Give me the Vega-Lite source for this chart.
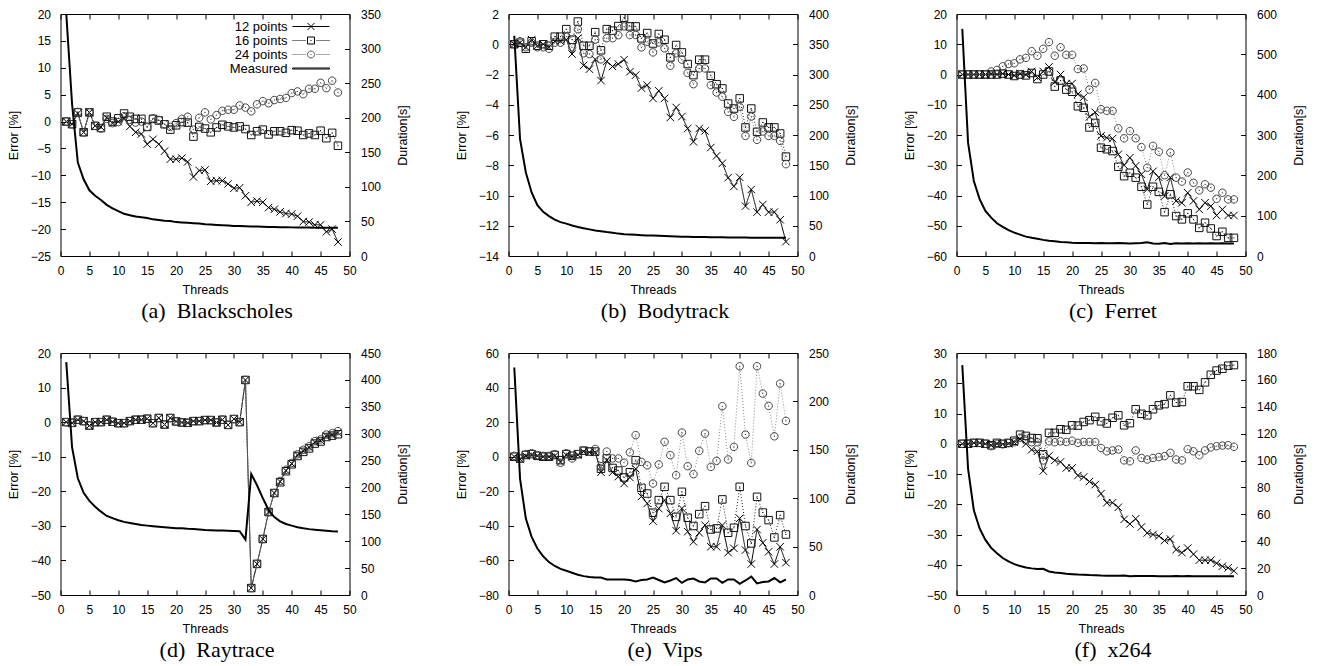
{
"$schema": "https://vega.github.io/schema/vega-lite/v6.json",
"padding": {"left": 6.5, "top": 7, "right": 5, "bottom": 5},
"config": {
 "view": {"stroke": "#000000", "strokeWidth": 1},
 "font": "Liberation Sans",
 "axis": {"grid": false, "domain": false, "tickSize": -5, "tickColor": "#000000", "tickWidth": 1, "labelFont": "Liberation Sans", "labelFontSize": 12, "labelColor": "#000000", "titleFont": "Liberation Sans", "titleFontSize": 12.5, "titleFontWeight": "normal", "titleColor": "#000000", "labelFlush": false, "labelOverlap": false},
 "axisLeft": {"labelPadding": 15, "titlePadding": 10},
 "axisRight": {"labelPadding": 16, "titlePadding": 16, "titleAngle": 270, "titleBaseline": "top"},
 "axisBottom": {"labelPadding": 14.5, "titlePadding": 6.5},
 "axisTop": {"labels": false},
 "title": {"orient": "bottom", "font": "Liberation Serif", "fontSize": 22, "fontWeight": "normal", "color": "#000000", "frame": "group", "anchor": "middle", "offset": 5, "dx": 12}
},
"data": {"values": [
{"p":"a","t":1,"12 points":0,"16 points":0,"24 points":0,"dur":350},
{"p":"a","t":2,"12 points":-0.5,"16 points":-0.5,"24 points":-0.5,"dur":220},
{"p":"a","t":3,"12 points":1.5,"16 points":1.7,"24 points":1.8,"dur":135},
{"p":"a","t":4,"12 points":-2,"16 points":-2,"24 points":-2,"dur":111},
{"p":"a","t":5,"12 points":1.7,"16 points":1.7,"24 points":1.7,"dur":95},
{"p":"a","t":6,"12 points":-0.8,"16 points":-0.8,"24 points":-0.8,"dur":87},
{"p":"a","t":7,"12 points":-1,"16 points":-1.2,"24 points":-1.3,"dur":81},
{"p":"a","t":8,"12 points":0.7,"16 points":0.9,"24 points":0.5,"dur":74},
{"p":"a","t":9,"12 points":-0.3,"16 points":0,"24 points":-0.3,"dur":69},
{"p":"a","t":10,"12 points":0,"16 points":0.6,"24 points":-0.1,"dur":65},
{"p":"a","t":11,"12 points":0.6,"16 points":1.5,"24 points":1,"dur":61},
{"p":"a","t":12,"12 points":-0.9,"16 points":0.9,"24 points":0.3,"dur":59},
{"p":"a","t":13,"12 points":-2,"16 points":0.5,"24 points":-0.2,"dur":57},
{"p":"a","t":14,"12 points":-2.3,"16 points":0.5,"24 points":0,"dur":56},
{"p":"a","t":15,"12 points":-4.2,"16 points":-1,"24 points":-1,"dur":55},
{"p":"a","t":16,"12 points":-3.3,"16 points":0.5,"24 points":0.6,"dur":53},
{"p":"a","t":17,"12 points":-4.2,"16 points":0.2,"24 points":0.3,"dur":52},
{"p":"a","t":18,"12 points":-5.5,"16 points":-0.5,"24 points":-0.5,"dur":51},
{"p":"a","t":19,"12 points":-7,"16 points":-1.5,"24 points":-1,"dur":50.5},
{"p":"a","t":20,"12 points":-7,"16 points":-0.7,"24 points":-0.3,"dur":49},
{"p":"a","t":21,"12 points":-6.8,"16 points":-0.1,"24 points":0.5,"dur":48.5},
{"p":"a","t":22,"12 points":-7.5,"16 points":-0.2,"24 points":0.9,"dur":48},
{"p":"a","t":23,"12 points":-10.3,"16 points":-2.8,"24 points":-1.5,"dur":47.5},
{"p":"a","t":24,"12 points":-9.1,"16 points":-1,"24 points":0.7,"dur":47},
{"p":"a","t":25,"12 points":-9,"16 points":-1.3,"24 points":1.7,"dur":46},
{"p":"a","t":26,"12 points":-11.1,"16 points":-2,"24 points":0.4,"dur":45.5},
{"p":"a","t":27,"12 points":-11,"16 points":-1.1,"24 points":1.2,"dur":45},
{"p":"a","t":28,"12 points":-11,"16 points":-0.6,"24 points":2,"dur":44.5},
{"p":"a","t":29,"12 points":-11.6,"16 points":-0.9,"24 points":2.2,"dur":44},
{"p":"a","t":30,"12 points":-12.4,"16 points":-1.1,"24 points":2.2,"dur":43.5},
{"p":"a","t":31,"12 points":-12.3,"16 points":-0.9,"24 points":3,"dur":43.3},
{"p":"a","t":32,"12 points":-13.8,"16 points":-1.4,"24 points":2.6,"dur":43},
{"p":"a","t":33,"12 points":-15,"16 points":-2.5,"24 points":1.9,"dur":42.8},
{"p":"a","t":34,"12 points":-14.8,"16 points":-1.8,"24 points":3.2,"dur":42.5},
{"p":"a","t":35,"12 points":-15,"16 points":-1.5,"24 points":3.8,"dur":42.2},
{"p":"a","t":36,"12 points":-16,"16 points":-2.4,"24 points":3.4,"dur":42},
{"p":"a","t":37,"12 points":-16.3,"16 points":-1.8,"24 points":4,"dur":41.8},
{"p":"a","t":38,"12 points":-16.8,"16 points":-1.8,"24 points":4.2,"dur":41.6},
{"p":"a","t":39,"12 points":-17.1,"16 points":-2.1,"24 points":4.4,"dur":41.5},
{"p":"a","t":40,"12 points":-17.2,"16 points":-1.6,"24 points":5.3,"dur":41.4},
{"p":"a","t":41,"12 points":-17.6,"16 points":-1.7,"24 points":5.6,"dur":41.3},
{"p":"a","t":42,"12 points":-18.6,"16 points":-2.5,"24 points":5.1,"dur":41.2},
{"p":"a","t":43,"12 points":-18.7,"16 points":-2.2,"24 points":6.1,"dur":41.1},
{"p":"a","t":44,"12 points":-19.2,"16 points":-2.5,"24 points":6.1,"dur":41},
{"p":"a","t":45,"12 points":-19.2,"16 points":-1.7,"24 points":7.2,"dur":41},
{"p":"a","t":46,"12 points":-20.5,"16 points":-3.1,"24 points":6.2,"dur":41},
{"p":"a","t":47,"12 points":-20,"16 points":-2.1,"24 points":7.6,"dur":40.8},
{"p":"a","t":48,"12 points":-22.4,"16 points":-4.5,"24 points":5.4,"dur":40.7},
{"p":"b","t":1,"12 points":0,"16 points":0,"24 points":0,"dur":364},
{"p":"b","t":2,"12 points":0.1,"16 points":0.1,"24 points":0.2,"dur":193},
{"p":"b","t":3,"12 points":-0.2,"16 points":-0.3,"24 points":-0.2,"dur":138},
{"p":"b","t":4,"12 points":0.3,"16 points":0.2,"24 points":0.1,"dur":105},
{"p":"b","t":5,"12 points":-0.1,"16 points":-0.1,"24 points":-0.2,"dur":84},
{"p":"b","t":6,"12 points":0,"16 points":0,"24 points":-0.2,"dur":73},
{"p":"b","t":7,"12 points":-0.2,"16 points":-0.1,"24 points":-0.3,"dur":66},
{"p":"b","t":8,"12 points":0.2,"16 points":0.5,"24 points":0.1,"dur":60},
{"p":"b","t":9,"12 points":0.2,"16 points":0.5,"24 points":0.1,"dur":56},
{"p":"b","t":10,"12 points":0.3,"16 points":1,"24 points":0.5,"dur":53.5},
{"p":"b","t":11,"12 points":-0.65,"16 points":0.3,"24 points":-0.2,"dur":50.5},
{"p":"b","t":12,"12 points":0.4,"16 points":1.5,"24 points":1,"dur":48},
{"p":"b","t":13,"12 points":-1.4,"16 points":-0.1,"24 points":-0.6,"dur":46},
{"p":"b","t":14,"12 points":-1.65,"16 points":-0.1,"24 points":-0.65,"dur":44},
{"p":"b","t":15,"12 points":-1,"16 points":0.8,"24 points":0.3,"dur":42},
{"p":"b","t":16,"12 points":-2.4,"16 points":-0.4,"24 points":-1,"dur":41},
{"p":"b","t":17,"12 points":-1.13,"16 points":1,"24 points":0.4,"dur":39.5},
{"p":"b","t":18,"12 points":-1.47,"16 points":0.9,"24 points":0.4,"dur":38.5},
{"p":"b","t":19,"12 points":-1.31,"16 points":1.2,"24 points":0.6,"dur":37},
{"p":"b","t":20,"12 points":-1.02,"16 points":1.75,"24 points":1.18,"dur":36},
{"p":"b","t":21,"12 points":-1.82,"16 points":1.18,"24 points":0.61,"dur":35.5},
{"p":"b","t":22,"12 points":-2.04,"16 points":1.18,"24 points":0.61,"dur":35},
{"p":"b","t":23,"12 points":-2.9,"16 points":0.39,"24 points":-0.21,"dur":34.5},
{"p":"b","t":24,"12 points":-2.7,"16 points":0.74,"24 points":0.17,"dur":34},
{"p":"b","t":25,"12 points":-3.58,"16 points":0.05,"24 points":-0.54,"dur":33.8},
{"p":"b","t":26,"12 points":-3.08,"16 points":0.68,"24 points":0.12,"dur":33.3},
{"p":"b","t":27,"12 points":-3.58,"16 points":0.3,"24 points":-0.27,"dur":33},
{"p":"b","t":28,"12 points":-4.84,"16 points":-0.87,"24 points":-1.42,"dur":32.7},
{"p":"b","t":29,"12 points":-4.18,"16 points":-0.05,"24 points":-0.6,"dur":32.3},
{"p":"b","t":30,"12 points":-4.78,"16 points":-0.54,"24 points":-1.02,"dur":32},
{"p":"b","t":31,"12 points":-5.57,"16 points":-1.31,"24 points":-1.9,"dur":31.8},
{"p":"b","t":32,"12 points":-6.45,"16 points":-2.04,"24 points":-2.64,"dur":31.6},
{"p":"b","t":33,"12 points":-5.57,"16 points":-1.02,"24 points":-1.6,"dur":31.4},
{"p":"b","t":34,"12 points":-5.73,"16 points":-1.02,"24 points":-1.6,"dur":31.2},
{"p":"b","t":35,"12 points":-6.83,"16 points":-2.08,"24 points":-2.7,"dur":31},
{"p":"b","t":36,"12 points":-7.38,"16 points":-2.64,"24 points":-3.19,"dur":30.9},
{"p":"b","t":37,"12 points":-7.87,"16 points":-2.92,"24 points":-3.47,"dur":30.8},
{"p":"b","t":38,"12 points":-8.82,"16 points":-3.92,"24 points":-4.47,"dur":30.7},
{"p":"b","t":39,"12 points":-9.4,"16 points":-4.25,"24 points":-4.8,"dur":30.6},
{"p":"b","t":40,"12 points":-8.8,"16 points":-3.58,"24 points":-4.14,"dur":30.5},
{"p":"b","t":41,"12 points":-10.7,"16 points":-5.5,"24 points":-6.06,"dur":30.4},
{"p":"b","t":42,"12 points":-9.6,"16 points":-4.25,"24 points":-4.78,"dur":30.3},
{"p":"b","t":43,"12 points":-11.1,"16 points":-5.79,"24 points":-6.32,"dur":30.2},
{"p":"b","t":44,"12 points":-10.6,"16 points":-5.17,"24 points":-5.77,"dur":30.2},
{"p":"b","t":45,"12 points":-11.1,"16 points":-5.5,"24 points":-6.06,"dur":30.1},
{"p":"b","t":46,"12 points":-11.1,"16 points":-5.5,"24 points":-6.06,"dur":30.1},
{"p":"b","t":47,"12 points":-11.6,"16 points":-5.9,"24 points":-6.39,"dur":30},
{"p":"b","t":48,"12 points":-13.05,"16 points":-7.43,"24 points":-7.93,"dur":30},
{"p":"c","t":1,"12 points":0,"16 points":0,"24 points":0,"dur":563},
{"p":"c","t":2,"12 points":0,"16 points":0,"24 points":0,"dur":281},
{"p":"c","t":3,"12 points":0,"16 points":0,"24 points":0,"dur":186},
{"p":"c","t":4,"12 points":0,"16 points":0,"24 points":0,"dur":141},
{"p":"c","t":5,"12 points":0,"16 points":0,"24 points":0,"dur":112},
{"p":"c","t":6,"12 points":0.3,"16 points":0,"24 points":1,"dur":95},
{"p":"c","t":7,"12 points":0,"16 points":0,"24 points":1.5,"dur":81},
{"p":"c","t":8,"12 points":0.3,"16 points":0.3,"24 points":2.7,"dur":72},
{"p":"c","t":9,"12 points":0,"16 points":0,"24 points":3.5,"dur":64},
{"p":"c","t":10,"12 points":-0.3,"16 points":-0.5,"24 points":3.7,"dur":58},
{"p":"c","t":11,"12 points":0.3,"16 points":0,"24 points":5,"dur":53},
{"p":"c","t":12,"12 points":0,"16 points":-0.3,"24 points":5.5,"dur":48},
{"p":"c","t":13,"12 points":1,"16 points":0.5,"24 points":7.7,"dur":45},
{"p":"c","t":14,"12 points":-1,"16 points":-1.5,"24 points":6.2,"dur":42.5},
{"p":"c","t":15,"12 points":1,"16 points":0,"24 points":8.5,"dur":40},
{"p":"c","t":16,"12 points":2.5,"16 points":1,"24 points":10.7,"dur":38},
{"p":"c","t":17,"12 points":-2.5,"16 points":-4,"24 points":6.2,"dur":36.5},
{"p":"c","t":18,"12 points":0,"16 points":-2,"24 points":9,"dur":35},
{"p":"c","t":19,"12 points":-3,"16 points":-5,"24 points":6.5,"dur":34},
{"p":"c","t":20,"12 points":-3,"16 points":-5.7,"24 points":6.5,"dur":33},
{"p":"c","t":21,"12 points":-6.5,"16 points":-10.5,"24 points":1.8,"dur":32.5},
{"p":"c","t":22,"12 points":-7.5,"16 points":-11,"24 points":2,"dur":32},
{"p":"c","t":23,"12 points":-14,"16 points":-17.5,"24 points":-5,"dur":32},
{"p":"c","t":24,"12 points":-12.5,"16 points":-16,"24 points":-2.8,"dur":31.5},
{"p":"c","t":25,"12 points":-20.3,"16 points":-24.2,"24 points":-11.5,"dur":32},
{"p":"c","t":26,"12 points":-20.9,"16 points":-24.7,"24 points":-12,"dur":31.5},
{"p":"c","t":27,"12 points":-21.2,"16 points":-25.3,"24 points":-12,"dur":31.5},
{"p":"c","t":28,"12 points":-26.4,"16 points":-30.5,"24 points":-17.8,"dur":32},
{"p":"c","t":29,"12 points":-30,"16 points":-33.6,"24 points":-21.1,"dur":31.5},
{"p":"c","t":30,"12 points":-27.5,"16 points":-32.5,"24 points":-18.7,"dur":31},
{"p":"c","t":31,"12 points":-30.2,"16 points":-34.1,"24 points":-21.1,"dur":31.5},
{"p":"c","t":32,"12 points":-33,"16 points":-37.1,"24 points":-24,"dur":32},
{"p":"c","t":33,"12 points":-38,"16 points":-43,"24 points":-30.8,"dur":34},
{"p":"c","t":34,"12 points":-32,"16 points":-37.1,"24 points":-23.6,"dur":31},
{"p":"c","t":35,"12 points":-34,"16 points":-38.8,"24 points":-25.5,"dur":30.5},
{"p":"c","t":36,"12 points":-40.2,"16 points":-45.5,"24 points":-33.3,"dur":32},
{"p":"c","t":37,"12 points":-34,"16 points":-39.6,"24 points":-25.8,"dur":29.5},
{"p":"c","t":38,"12 points":-41.8,"16 points":-46.8,"24 points":-34.1,"dur":31.5},
{"p":"c","t":39,"12 points":-42.4,"16 points":-47.9,"24 points":-35.4,"dur":31},
{"p":"c","t":40,"12 points":-39.1,"16 points":-45.9,"24 points":-32.4,"dur":31.5},
{"p":"c","t":41,"12 points":-41.8,"16 points":-47.9,"24 points":-35.8,"dur":31},
{"p":"c","t":42,"12 points":-44.6,"16 points":-50.7,"24 points":-38.3,"dur":31.5},
{"p":"c","t":43,"12 points":-42.4,"16 points":-49,"24 points":-36.3,"dur":31},
{"p":"c","t":44,"12 points":-43.5,"16 points":-50.9,"24 points":-37.4,"dur":31.5},
{"p":"c","t":45,"12 points":-46.6,"16 points":-53.4,"24 points":-41.1,"dur":31},
{"p":"c","t":46,"12 points":-44.6,"16 points":-52,"24 points":-39.1,"dur":31.5},
{"p":"c","t":47,"12 points":-46.6,"16 points":-54,"24 points":-41.3,"dur":31},
{"p":"c","t":48,"12 points":-46.6,"16 points":-54,"24 points":-41.3,"dur":31},
{"p":"d","t":1,"12 points":0,"16 points":0,"24 points":0,"dur":433},
{"p":"d","t":2,"12 points":-0.2,"16 points":-0.2,"24 points":-0.2,"dur":275},
{"p":"d","t":3,"12 points":0.7,"16 points":0.7,"24 points":0.7,"dur":217},
{"p":"d","t":4,"12 points":0.3,"16 points":0.3,"24 points":0.3,"dur":190},
{"p":"d","t":5,"12 points":-1,"16 points":-1,"24 points":-1,"dur":175},
{"p":"d","t":6,"12 points":0,"16 points":0,"24 points":0,"dur":164},
{"p":"d","t":7,"12 points":0,"16 points":0,"24 points":0,"dur":155},
{"p":"d","t":8,"12 points":0.7,"16 points":0.7,"24 points":0.7,"dur":147},
{"p":"d","t":9,"12 points":0.1,"16 points":0.1,"24 points":0.1,"dur":143},
{"p":"d","t":10,"12 points":-0.3,"16 points":-0.3,"24 points":-0.3,"dur":139},
{"p":"d","t":11,"12 points":-0.3,"16 points":-0.3,"24 points":-0.3,"dur":136},
{"p":"d","t":12,"12 points":0.3,"16 points":0.3,"24 points":0.3,"dur":134},
{"p":"d","t":13,"12 points":0.7,"16 points":0.7,"24 points":0.7,"dur":132},
{"p":"d","t":14,"12 points":0.7,"16 points":0.7,"24 points":0.7,"dur":130},
{"p":"d","t":15,"12 points":1,"16 points":1,"24 points":1,"dur":129},
{"p":"d","t":16,"12 points":-0.3,"16 points":-0.3,"24 points":-0.3,"dur":128},
{"p":"d","t":17,"12 points":1.2,"16 points":1.2,"24 points":1.2,"dur":127},
{"p":"d","t":18,"12 points":-0.7,"16 points":-0.7,"24 points":-0.7,"dur":126},
{"p":"d","t":19,"12 points":1.2,"16 points":1.2,"24 points":1.2,"dur":125},
{"p":"d","t":20,"12 points":0.2,"16 points":0.2,"24 points":0.2,"dur":124},
{"p":"d","t":21,"12 points":-0.1,"16 points":-0.1,"24 points":-0.1,"dur":124},
{"p":"d","t":22,"12 points":-0.2,"16 points":-0.2,"24 points":-0.2,"dur":123},
{"p":"d","t":23,"12 points":0.3,"16 points":0.3,"24 points":0.3,"dur":122.5},
{"p":"d","t":24,"12 points":0.3,"16 points":0.3,"24 points":0.3,"dur":122},
{"p":"d","t":25,"12 points":0.6,"16 points":0.6,"24 points":0.6,"dur":121},
{"p":"d","t":26,"12 points":0.6,"16 points":0.6,"24 points":0.6,"dur":120.5},
{"p":"d","t":27,"12 points":-0.1,"16 points":-0.1,"24 points":-0.1,"dur":120},
{"p":"d","t":28,"12 points":0.7,"16 points":0.7,"24 points":0.7,"dur":120},
{"p":"d","t":29,"12 points":-0.8,"16 points":-0.8,"24 points":-0.8,"dur":119.5},
{"p":"d","t":30,"12 points":0.9,"16 points":0.9,"24 points":0.9,"dur":119},
{"p":"d","t":31,"12 points":0,"16 points":0,"24 points":0,"dur":118.5},
{"p":"d","t":32,"12 points":12.2,"16 points":12.2,"24 points":12.2,"dur":103},
{"p":"d","t":33,"12 points":-48,"16 points":-48,"24 points":-48,"dur":225},
{"p":"d","t":34,"12 points":-41,"16 points":-41,"24 points":-41,"dur":204},
{"p":"d","t":35,"12 points":-33.8,"16 points":-33.8,"24 points":-33.8,"dur":180},
{"p":"d","t":36,"12 points":-26,"16 points":-26,"24 points":-26,"dur":158},
{"p":"d","t":37,"12 points":-20.5,"16 points":-20.5,"24 points":-20.5,"dur":145},
{"p":"d","t":38,"12 points":-17.2,"16 points":-17.4,"24 points":-17,"dur":137},
{"p":"d","t":39,"12 points":-14,"16 points":-14.2,"24 points":-13.8,"dur":132},
{"p":"d","t":40,"12 points":-12,"16 points":-12.2,"24 points":-11.8,"dur":129},
{"p":"d","t":41,"12 points":-9.5,"16 points":-9.8,"24 points":-9.3,"dur":126},
{"p":"d","t":42,"12 points":-8.3,"16 points":-8.6,"24 points":-8,"dur":124},
{"p":"d","t":43,"12 points":-7.3,"16 points":-7.6,"24 points":-7,"dur":122.5},
{"p":"d","t":44,"12 points":-5.8,"16 points":-6.2,"24 points":-5.5,"dur":121.5},
{"p":"d","t":45,"12 points":-5.3,"16 points":-5.6,"24 points":-5,"dur":120.5},
{"p":"d","t":46,"12 points":-4,"16 points":-4.3,"24 points":-3.6,"dur":119.5},
{"p":"d","t":47,"12 points":-3.6,"16 points":-3.9,"24 points":-3.2,"dur":118.5},
{"p":"d","t":48,"12 points":-3,"16 points":-3.5,"24 points":-2.6,"dur":118},
{"p":"e","t":1,"12 points":0,"16 points":0,"24 points":0.5,"dur":235},
{"p":"e","t":2,"12 points":-1.5,"16 points":-1,"24 points":-1,"dur":120},
{"p":"e","t":3,"12 points":0.5,"16 points":1,"24 points":1.5,"dur":79},
{"p":"e","t":4,"12 points":1,"16 points":1.5,"24 points":2,"dur":60},
{"p":"e","t":5,"12 points":0.5,"16 points":0.5,"24 points":1,"dur":48},
{"p":"e","t":6,"12 points":0,"16 points":0,"24 points":0.5,"dur":40},
{"p":"e","t":7,"12 points":0,"16 points":0,"24 points":0.5,"dur":34},
{"p":"e","t":8,"12 points":0.5,"16 points":1,"24 points":1.5,"dur":30},
{"p":"e","t":9,"12 points":-3,"16 points":-2,"24 points":-3.5,"dur":27},
{"p":"e","t":10,"12 points":1,"16 points":1.5,"24 points":2,"dur":25},
{"p":"e","t":11,"12 points":0,"16 points":0.5,"24 points":-1,"dur":23},
{"p":"e","t":12,"12 points":1,"16 points":1.5,"24 points":1.5,"dur":21},
{"p":"e","t":13,"12 points":3,"16 points":3.5,"24 points":3.5,"dur":19.5},
{"p":"e","t":14,"12 points":2.5,"16 points":3,"24 points":3,"dur":18.5},
{"p":"e","t":15,"12 points":2.5,"16 points":3,"24 points":4.5,"dur":18},
{"p":"e","t":16,"12 points":-9,"16 points":-7,"24 points":-5.5,"dur":18},
{"p":"e","t":17,"12 points":-2,"16 points":-1,"24 points":3,"dur":16},
{"p":"e","t":18,"12 points":-9,"16 points":-6.5,"24 points":-1,"dur":16},
{"p":"e","t":19,"12 points":-11.5,"16 points":-8,"24 points":-1,"dur":16},
{"p":"e","t":20,"12 points":-15.5,"16 points":-12,"24 points":-3.5,"dur":16},
{"p":"e","t":21,"12 points":-12,"16 points":-9,"24 points":2.5,"dur":15.5},
{"p":"e","t":22,"12 points":-7,"16 points":-2,"24 points":12.5,"dur":14},
{"p":"e","t":23,"12 points":-23,"16 points":-18,"24 points":-3,"dur":15.5},
{"p":"e","t":24,"12 points":-27,"16 points":-21.3,"24 points":-5,"dur":16},
{"p":"e","t":25,"12 points":-37.3,"16 points":-32.4,"24 points":-15.5,"dur":18},
{"p":"e","t":26,"12 points":-30,"16 points":-25.1,"24 points":-4.5,"dur":15.5},
{"p":"e","t":27,"12 points":-25.1,"16 points":-17.4,"24 points":8.6,"dur":13},
{"p":"e","t":28,"12 points":-32.8,"16 points":-25.1,"24 points":0.9,"dur":15},
{"p":"e","t":29,"12 points":-42.8,"16 points":-34.8,"24 points":-10.7,"dur":17.5},
{"p":"e","t":30,"12 points":-29.9,"16 points":-20.3,"24 points":14,"dur":12.5},
{"p":"e","t":31,"12 points":-43.4,"16 points":-35.3,"24 points":-5.5,"dur":16},
{"p":"e","t":32,"12 points":-49.2,"16 points":-40.1,"24 points":-10.1,"dur":17},
{"p":"e","t":33,"12 points":-44,"16 points":-33.2,"24 points":3.4,"dur":14},
{"p":"e","t":34,"12 points":-39.6,"16 points":-28.6,"24 points":13.4,"dur":13},
{"p":"e","t":35,"12 points":-52.1,"16 points":-42.1,"24 points":-5.9,"dur":17},
{"p":"e","t":36,"12 points":-52.1,"16 points":-41.5,"24 points":-2.4,"dur":17},
{"p":"e","t":37,"12 points":-39.6,"16 points":-24.7,"24 points":29.2,"dur":12.5},
{"p":"e","t":38,"12 points":-55.5,"16 points":-44,"24 points":-1.6,"dur":16},
{"p":"e","t":39,"12 points":-53,"16 points":-41.1,"24 points":5.7,"dur":16},
{"p":"e","t":40,"12 points":-35.7,"16 points":-17.4,"24 points":52.3,"dur":11.5},
{"p":"e","t":41,"12 points":-54,"16 points":-40.1,"24 points":12.8,"dur":15},
{"p":"e","t":42,"12 points":-62.1,"16 points":-50.2,"24 points":-3.6,"dur":19},
{"p":"e","t":43,"12 points":-42.1,"16 points":-23.2,"24 points":52.3,"dur":12},
{"p":"e","t":44,"12 points":-49.8,"16 points":-32.3,"24 points":36.5,"dur":13.5},
{"p":"e","t":45,"12 points":-55,"16 points":-36.7,"24 points":29.4,"dur":14},
{"p":"e","t":46,"12 points":-62.1,"16 points":-46.7,"24 points":11.8,"dur":17.5},
{"p":"e","t":47,"12 points":-52.1,"16 points":-33.8,"24 points":42.3,"dur":13},
{"p":"e","t":48,"12 points":-61.3,"16 points":-45,"24 points":20.7,"dur":16},
{"p":"f","t":1,"12 points":0,"16 points":0,"24 points":0,"dur":171},
{"p":"f","t":2,"12 points":0,"16 points":0,"24 points":0,"dur":94},
{"p":"f","t":3,"12 points":0.3,"16 points":0.3,"24 points":0.3,"dur":63},
{"p":"f","t":4,"12 points":0.3,"16 points":0.3,"24 points":0.3,"dur":49.5},
{"p":"f","t":5,"12 points":0,"16 points":0,"24 points":0,"dur":41},
{"p":"f","t":6,"12 points":-0.5,"16 points":-0.5,"24 points":-0.8,"dur":35},
{"p":"f","t":7,"12 points":0,"16 points":0.3,"24 points":0,"dur":31},
{"p":"f","t":8,"12 points":-0.2,"16 points":0,"24 points":-0.2,"dur":27.5},
{"p":"f","t":9,"12 points":0,"16 points":0.3,"24 points":0.2,"dur":25},
{"p":"f","t":10,"12 points":0.5,"16 points":1,"24 points":0.5,"dur":23},
{"p":"f","t":11,"12 points":1.5,"16 points":3,"24 points":2,"dur":21.5},
{"p":"f","t":12,"12 points":0,"16 points":2.6,"24 points":1,"dur":20.5},
{"p":"f","t":13,"12 points":-2,"16 points":1.9,"24 points":0.5,"dur":19.8},
{"p":"f","t":14,"12 points":-2.5,"16 points":1.8,"24 points":0.5,"dur":19.3},
{"p":"f","t":15,"12 points":-9,"16 points":-3.5,"24 points":-5.5,"dur":19.5},
{"p":"f","t":16,"12 points":-4,"16 points":3.6,"24 points":0.8,"dur":17.5},
{"p":"f","t":17,"12 points":-5.5,"16 points":3.6,"24 points":0.5,"dur":16.8},
{"p":"f","t":18,"12 points":-6,"16 points":4.8,"24 points":0.8,"dur":16.3},
{"p":"f","t":19,"12 points":-8,"16 points":4.6,"24 points":0.6,"dur":15.8},
{"p":"f","t":20,"12 points":-8,"16 points":6.1,"24 points":1,"dur":15.5},
{"p":"f","t":21,"12 points":-10.5,"16 points":6,"24 points":0.3,"dur":15.2},
{"p":"f","t":22,"12 points":-11,"16 points":7.2,"24 points":0.6,"dur":15},
{"p":"f","t":23,"12 points":-12.5,"16 points":7.8,"24 points":0.6,"dur":14.8},
{"p":"f","t":24,"12 points":-13.5,"16 points":8.9,"24 points":0.6,"dur":14.7},
{"p":"f","t":25,"12 points":-16.5,"16 points":7.4,"24 points":-1.4,"dur":14.5},
{"p":"f","t":26,"12 points":-19.5,"16 points":6.7,"24 points":-2.5,"dur":14.4},
{"p":"f","t":27,"12 points":-19.5,"16 points":8.6,"24 points":-2.2,"dur":14.3},
{"p":"f","t":28,"12 points":-21,"16 points":9.4,"24 points":-1.9,"dur":14.3},
{"p":"f","t":29,"12 points":-25,"16 points":6.1,"24 points":-5.5,"dur":14.5},
{"p":"f","t":30,"12 points":-26.5,"16 points":6.8,"24 points":-5.8,"dur":14},
{"p":"f","t":31,"12 points":-24.8,"16 points":11.4,"24 points":-2.2,"dur":14.2},
{"p":"f","t":32,"12 points":-27.5,"16 points":9.9,"24 points":-4.7,"dur":14.2},
{"p":"f","t":33,"12 points":-29.5,"16 points":9.4,"24 points":-5.2,"dur":14.1},
{"p":"f","t":34,"12 points":-30,"16 points":11.4,"24 points":-4.7,"dur":14.1},
{"p":"f","t":35,"12 points":-30.5,"16 points":12.7,"24 points":-4.4,"dur":14},
{"p":"f","t":36,"12 points":-32,"16 points":13.1,"24 points":-4.1,"dur":14},
{"p":"f","t":37,"12 points":-31.5,"16 points":16,"24 points":-3,"dur":14},
{"p":"f","t":38,"12 points":-35,"16 points":13.6,"24 points":-5.2,"dur":14.2},
{"p":"f","t":39,"12 points":-36,"16 points":13.8,"24 points":-5.5,"dur":14},
{"p":"f","t":40,"12 points":-34.5,"16 points":19,"24 points":-1.8,"dur":14.1},
{"p":"f","t":41,"12 points":-36.5,"16 points":19,"24 points":-2.5,"dur":14},
{"p":"f","t":42,"12 points":-38.5,"16 points":17.8,"24 points":-3.8,"dur":14},
{"p":"f","t":43,"12 points":-38.5,"16 points":20.3,"24 points":-2.2,"dur":14},
{"p":"f","t":44,"12 points":-38.5,"16 points":22.8,"24 points":-1.2,"dur":14},
{"p":"f","t":45,"12 points":-39.5,"16 points":24.2,"24 points":-0.8,"dur":14},
{"p":"f","t":46,"12 points":-40.5,"16 points":24.8,"24 points":-0.6,"dur":14},
{"p":"f","t":47,"12 points":-41,"16 points":25.8,"24 points":-0.5,"dur":14},
{"p":"f","t":48,"12 points":-42,"16 points":26,"24 points":-1,"dur":14}
]},
"columns": 3,
"spacing": {"row": 97, "column": 159},
"bounds": "flush",
"resolve": {"scale": {"shape": "independent"}, "legend": {"shape": "independent"}},
"concat": [
{
 "width": 289, "height": 242,
 "title": {"text": "(a)\u00a0 Blackscholes"},
 "transform": [{"filter": "datum.p === 'a'"}],
 "layer": [
  {
   "transform": [{"fold": ["12 points", "16 points", "24 points"], "as": ["series", "err"]}],
   "encoding": {
    "x": {"field": "t", "type": "quantitative", "scale": {"domain": [0, 50]}, "axis": {"orient": "bottom", "title": "Threads", "values": [0,5,10,15,20,25,30,35,40,45,50]}},
    "y": {"field": "err", "type": "quantitative", "scale": {"domain": [-25, 20]}, "axis": {"orient": "left", "title": "Error [%]", "values": [-25,-20,-15,-10,-5,0,5,10,15,20]}}
   },
   "layer": [
    {"mark": {"type": "line", "strokeWidth": 1, "clip": true}, "encoding": {"stroke": {"field": "series", "type": "nominal", "scale": {"domain": ["12 points", "16 points", "24 points"], "range": ["#000000", "#222222", "#888888"]}, "legend": null}, "strokeDash": {"field": "series", "type": "nominal", "scale": {"domain": ["12 points", "16 points", "24 points"], "range": [[1, 0], [1, 2], [1, 2]]}, "legend": null}}},
    {"mark": {"type": "point", "filled": false, "size": 56, "strokeWidth": 1, "opacity": 1, "clip": true}, "encoding": {
      "color": {"field": "series", "type": "nominal", "scale": {"domain": ["12 points", "16 points", "24 points"], "range": ["#000000", "#111111", "#444444"]}, "legend": null},
      "shape": {"field": "series", "type": "nominal", "scale": {"domain": ["12 points", "16 points", "24 points"], "range": ["M-1,-1L1,1M-1,1L1,-1", "M-1,-1H1V1H-1ZM-0.15,0H0.15", "M1,0A1,1,0,1,1,-1,0A1,1,0,1,1,1,0ZM-0.15,0H0.15"]}, "legend": null}
    }},
    {"transform": [{"filter": "false"}],
     "mark": {"type": "point", "filled": false, "size": 100, "strokeWidth": 1, "opacity": 1},
     "encoding": {
      "shape": {"field": "series", "type": "nominal",
       "scale": {"domain": ["12 points", "16 points", "24 points", "Measured"], "range": [
         "M-3.7,0H3.7M-0.7,-0.7L0.7,0.7M-0.7,0.7L0.7,-0.7",
         "M-3.7,0h0.2m0.2,0h0.2m0.2,0h0.2m0.2,0h0.2m0.2,0h0.2m0.2,0h0.2m0.2,0h0.2M-0.7,-0.7H0.7V0.7H-0.7ZM-0.1,0H0.1M1.1,0h0.2m0.2,0h0.2m0.2,0h0.2m0.2,0h0.2m0.2,0h0.2m0.2,0h0.2m0.2,0h0.2",
         "M-3.7,0h0.2m0.2,0h0.2m0.2,0h0.2m0.2,0h0.2m0.2,0h0.2m0.2,0h0.2m0.2,0h0.2M0.7,0A0.7,0.7,0,1,1,-0.7,0A0.7,0.7,0,1,1,0.7,0ZM-0.1,0H0.1M1.1,0h0.2m0.2,0h0.2m0.2,0h0.2m0.2,0h0.2m0.2,0h0.2m0.2,0h0.2m0.2,0h0.2",
         "M-3.7,-0.1H3.7V0.1H-3.7Z"]},
       "legend": {"orient": "none", "legendX": 235, "legendY": 6, "title": null, "symbolSize": 100, "labelFontSize": 13, "labelFont": "Liberation Sans", "labelColor": "#000000", "labelAlign": "right", "labelOffset": -30, "symbolOffset": 9, "rowPadding": -8, "symbolOpacity": 1, "symbolStrokeWidth": 1}},
      "color": {"field": "series", "type": "nominal",
       "scale": {"domain": ["12 points", "16 points", "24 points", "Measured"], "range": ["#000000", "#000000", "#555555", "#000000"]},
       "legend": {"orient": "none", "legendX": 235, "legendY": 6, "title": null, "symbolSize": 100, "labelFontSize": 13, "labelFont": "Liberation Sans", "labelColor": "#000000", "labelAlign": "right", "labelOffset": -30, "symbolOffset": 9, "rowPadding": -8, "symbolOpacity": 1, "symbolStrokeWidth": 1}}
     }
    }
   ],
   "resolve": {"scale": {"shape": "independent", "color": "independent"}}
  },
  {
   "mark": {"type": "line", "stroke": "#000000", "strokeWidth": 2, "clip": true},
   "encoding": {
    "x": {"field": "t", "type": "quantitative", "scale": {"domain": [0, 50]}, "axis": {"orient": "top", "title": null, "labels": false, "values": [0,5,10,15,20,25,30,35,40,45,50]}},
    "y": {"field": "dur", "type": "quantitative", "scale": {"domain": [0, 350]}, "axis": {"orient": "right", "title": "Duration[s]", "values": [0,50,100,150,200,250,300,350]}}
   }
  }
 ],
 "resolve": {"scale": {"y": "independent"}, "axis": {"x": "independent", "y": "independent"}}
},
{
 "width": 289, "height": 242,
 "title": {"text": "(b)\u00a0 Bodytrack"},
 "transform": [{"filter": "datum.p === 'b'"}],
 "layer": [
  {
   "transform": [{"fold": ["12 points", "16 points", "24 points"], "as": ["series", "err"]}],
   "encoding": {
    "x": {"field": "t", "type": "quantitative", "scale": {"domain": [0, 50]}, "axis": {"orient": "bottom", "title": "Threads", "values": [0,5,10,15,20,25,30,35,40,45,50]}},
    "y": {"field": "err", "type": "quantitative", "scale": {"domain": [-14, 2]}, "axis": {"orient": "left", "title": "Error [%]", "values": [-14,-12,-10,-8,-6,-4,-2,0,2]}}
   },
   "layer": [
    {"mark": {"type": "line", "strokeWidth": 1, "clip": true}, "encoding": {"stroke": {"field": "series", "type": "nominal", "scale": {"domain": ["12 points", "16 points", "24 points"], "range": ["#000000", "#222222", "#888888"]}, "legend": null}, "strokeDash": {"field": "series", "type": "nominal", "scale": {"domain": ["12 points", "16 points", "24 points"], "range": [[1, 0], [1, 2], [1, 2]]}, "legend": null}}},
    {"mark": {"type": "point", "filled": false, "size": 56, "strokeWidth": 1, "opacity": 1, "clip": true}, "encoding": {
      "color": {"field": "series", "type": "nominal", "scale": {"domain": ["12 points", "16 points", "24 points"], "range": ["#000000", "#111111", "#444444"]}, "legend": null},
      "shape": {"field": "series", "type": "nominal", "scale": {"domain": ["12 points", "16 points", "24 points"], "range": ["M-1,-1L1,1M-1,1L1,-1", "M-1,-1H1V1H-1ZM-0.15,0H0.15", "M1,0A1,1,0,1,1,-1,0A1,1,0,1,1,1,0ZM-0.15,0H0.15"]}, "legend": null}
    }}
   ]
  },
  {
   "mark": {"type": "line", "stroke": "#000000", "strokeWidth": 2, "clip": true},
   "encoding": {
    "x": {"field": "t", "type": "quantitative", "scale": {"domain": [0, 50]}, "axis": {"orient": "top", "title": null, "labels": false, "values": [0,5,10,15,20,25,30,35,40,45,50]}},
    "y": {"field": "dur", "type": "quantitative", "scale": {"domain": [0, 400]}, "axis": {"orient": "right", "title": "Duration[s]", "values": [0,50,100,150,200,250,300,350,400]}}
   }
  }
 ],
 "resolve": {"scale": {"y": "independent"}, "axis": {"x": "independent", "y": "independent"}}
},
{
 "width": 289, "height": 242,
 "title": {"text": "(c)\u00a0 Ferret"},
 "transform": [{"filter": "datum.p === 'c'"}],
 "layer": [
  {
   "transform": [{"fold": ["12 points", "16 points", "24 points"], "as": ["series", "err"]}],
   "encoding": {
    "x": {"field": "t", "type": "quantitative", "scale": {"domain": [0, 50]}, "axis": {"orient": "bottom", "title": "Threads", "values": [0,5,10,15,20,25,30,35,40,45,50]}},
    "y": {"field": "err", "type": "quantitative", "scale": {"domain": [-60, 20]}, "axis": {"orient": "left", "title": "Error [%]", "values": [-60,-50,-40,-30,-20,-10,0,10,20]}}
   },
   "layer": [
    {"mark": {"type": "line", "strokeWidth": 1, "clip": true}, "encoding": {"stroke": {"field": "series", "type": "nominal", "scale": {"domain": ["12 points", "16 points", "24 points"], "range": ["#000000", "#222222", "#888888"]}, "legend": null}, "strokeDash": {"field": "series", "type": "nominal", "scale": {"domain": ["12 points", "16 points", "24 points"], "range": [[1, 0], [1, 2], [1, 2]]}, "legend": null}}},
    {"mark": {"type": "point", "filled": false, "size": 56, "strokeWidth": 1, "opacity": 1, "clip": true}, "encoding": {
      "color": {"field": "series", "type": "nominal", "scale": {"domain": ["12 points", "16 points", "24 points"], "range": ["#000000", "#111111", "#444444"]}, "legend": null},
      "shape": {"field": "series", "type": "nominal", "scale": {"domain": ["12 points", "16 points", "24 points"], "range": ["M-1,-1L1,1M-1,1L1,-1", "M-1,-1H1V1H-1ZM-0.15,0H0.15", "M1,0A1,1,0,1,1,-1,0A1,1,0,1,1,1,0ZM-0.15,0H0.15"]}, "legend": null}
    }}
   ]
  },
  {
   "mark": {"type": "line", "stroke": "#000000", "strokeWidth": 2, "clip": true},
   "encoding": {
    "x": {"field": "t", "type": "quantitative", "scale": {"domain": [0, 50]}, "axis": {"orient": "top", "title": null, "labels": false, "values": [0,5,10,15,20,25,30,35,40,45,50]}},
    "y": {"field": "dur", "type": "quantitative", "scale": {"domain": [0, 600]}, "axis": {"orient": "right", "title": "Duration[s]", "values": [0,100,200,300,400,500,600]}}
   }
  }
 ],
 "resolve": {"scale": {"y": "independent"}, "axis": {"x": "independent", "y": "independent"}}
},
{
 "width": 289, "height": 242,
 "title": {"text": "(d)\u00a0 Raytrace"},
 "transform": [{"filter": "datum.p === 'd'"}],
 "layer": [
  {
   "transform": [{"fold": ["12 points", "16 points", "24 points"], "as": ["series", "err"]}],
   "encoding": {
    "x": {"field": "t", "type": "quantitative", "scale": {"domain": [0, 50]}, "axis": {"orient": "bottom", "title": "Threads", "values": [0,5,10,15,20,25,30,35,40,45,50]}},
    "y": {"field": "err", "type": "quantitative", "scale": {"domain": [-50, 20]}, "axis": {"orient": "left", "title": "Error [%]", "values": [-50,-40,-30,-20,-10,0,10,20]}}
   },
   "layer": [
    {"mark": {"type": "line", "strokeWidth": 1, "clip": true}, "encoding": {"stroke": {"field": "series", "type": "nominal", "scale": {"domain": ["12 points", "16 points", "24 points"], "range": ["#000000", "#222222", "#888888"]}, "legend": null}, "strokeDash": {"field": "series", "type": "nominal", "scale": {"domain": ["12 points", "16 points", "24 points"], "range": [[1, 0], [1, 2], [1, 2]]}, "legend": null}}},
    {"mark": {"type": "point", "filled": false, "size": 56, "strokeWidth": 1, "opacity": 1, "clip": true}, "encoding": {
      "color": {"field": "series", "type": "nominal", "scale": {"domain": ["12 points", "16 points", "24 points"], "range": ["#000000", "#111111", "#444444"]}, "legend": null},
      "shape": {"field": "series", "type": "nominal", "scale": {"domain": ["12 points", "16 points", "24 points"], "range": ["M-1,-1L1,1M-1,1L1,-1", "M-1,-1H1V1H-1ZM-0.15,0H0.15", "M1,0A1,1,0,1,1,-1,0A1,1,0,1,1,1,0ZM-0.15,0H0.15"]}, "legend": null}
    }}
   ]
  },
  {
   "mark": {"type": "line", "stroke": "#000000", "strokeWidth": 2, "clip": true},
   "encoding": {
    "x": {"field": "t", "type": "quantitative", "scale": {"domain": [0, 50]}, "axis": {"orient": "top", "title": null, "labels": false, "values": [0,5,10,15,20,25,30,35,40,45,50]}},
    "y": {"field": "dur", "type": "quantitative", "scale": {"domain": [0, 450]}, "axis": {"orient": "right", "title": "Duration[s]", "values": [0,50,100,150,200,250,300,350,400,450]}}
   }
  }
 ],
 "resolve": {"scale": {"y": "independent"}, "axis": {"x": "independent", "y": "independent"}}
},
{
 "width": 289, "height": 242,
 "title": {"text": "(e)\u00a0 Vips"},
 "transform": [{"filter": "datum.p === 'e'"}],
 "layer": [
  {
   "transform": [{"fold": ["12 points", "16 points", "24 points"], "as": ["series", "err"]}],
   "encoding": {
    "x": {"field": "t", "type": "quantitative", "scale": {"domain": [0, 50]}, "axis": {"orient": "bottom", "title": "Threads", "values": [0,5,10,15,20,25,30,35,40,45,50]}},
    "y": {"field": "err", "type": "quantitative", "scale": {"domain": [-80, 60]}, "axis": {"orient": "left", "title": "Error [%]", "values": [-80,-60,-40,-20,0,20,40,60]}}
   },
   "layer": [
    {"mark": {"type": "line", "strokeWidth": 1, "clip": true}, "encoding": {"stroke": {"field": "series", "type": "nominal", "scale": {"domain": ["12 points", "16 points", "24 points"], "range": ["#000000", "#222222", "#888888"]}, "legend": null}, "strokeDash": {"field": "series", "type": "nominal", "scale": {"domain": ["12 points", "16 points", "24 points"], "range": [[1, 0], [1, 2], [1, 2]]}, "legend": null}}},
    {"mark": {"type": "point", "filled": false, "size": 56, "strokeWidth": 1, "opacity": 1, "clip": true}, "encoding": {
      "color": {"field": "series", "type": "nominal", "scale": {"domain": ["12 points", "16 points", "24 points"], "range": ["#000000", "#111111", "#444444"]}, "legend": null},
      "shape": {"field": "series", "type": "nominal", "scale": {"domain": ["12 points", "16 points", "24 points"], "range": ["M-1,-1L1,1M-1,1L1,-1", "M-1,-1H1V1H-1ZM-0.15,0H0.15", "M1,0A1,1,0,1,1,-1,0A1,1,0,1,1,1,0ZM-0.15,0H0.15"]}, "legend": null}
    }}
   ]
  },
  {
   "mark": {"type": "line", "stroke": "#000000", "strokeWidth": 2, "clip": true},
   "encoding": {
    "x": {"field": "t", "type": "quantitative", "scale": {"domain": [0, 50]}, "axis": {"orient": "top", "title": null, "labels": false, "values": [0,5,10,15,20,25,30,35,40,45,50]}},
    "y": {"field": "dur", "type": "quantitative", "scale": {"domain": [0, 250]}, "axis": {"orient": "right", "title": "Duration[s]", "values": [0,50,100,150,200,250]}}
   }
  }
 ],
 "resolve": {"scale": {"y": "independent"}, "axis": {"x": "independent", "y": "independent"}}
},
{
 "width": 289, "height": 242,
 "title": {"text": "(f)\u00a0 x264"},
 "transform": [{"filter": "datum.p === 'f'"}],
 "layer": [
  {
   "transform": [{"fold": ["12 points", "16 points", "24 points"], "as": ["series", "err"]}],
   "encoding": {
    "x": {"field": "t", "type": "quantitative", "scale": {"domain": [0, 50]}, "axis": {"orient": "bottom", "title": "Threads", "values": [0,5,10,15,20,25,30,35,40,45,50]}},
    "y": {"field": "err", "type": "quantitative", "scale": {"domain": [-50, 30]}, "axis": {"orient": "left", "title": "Error [%]", "values": [-50,-40,-30,-20,-10,0,10,20,30]}}
   },
   "layer": [
    {"mark": {"type": "line", "strokeWidth": 1, "clip": true}, "encoding": {"stroke": {"field": "series", "type": "nominal", "scale": {"domain": ["12 points", "16 points", "24 points"], "range": ["#000000", "#222222", "#888888"]}, "legend": null}, "strokeDash": {"field": "series", "type": "nominal", "scale": {"domain": ["12 points", "16 points", "24 points"], "range": [[1, 0], [1, 2], [1, 2]]}, "legend": null}}},
    {"mark": {"type": "point", "filled": false, "size": 56, "strokeWidth": 1, "opacity": 1, "clip": true}, "encoding": {
      "color": {"field": "series", "type": "nominal", "scale": {"domain": ["12 points", "16 points", "24 points"], "range": ["#000000", "#111111", "#444444"]}, "legend": null},
      "shape": {"field": "series", "type": "nominal", "scale": {"domain": ["12 points", "16 points", "24 points"], "range": ["M-1,-1L1,1M-1,1L1,-1", "M-1,-1H1V1H-1ZM-0.15,0H0.15", "M1,0A1,1,0,1,1,-1,0A1,1,0,1,1,1,0ZM-0.15,0H0.15"]}, "legend": null}
    }}
   ]
  },
  {
   "mark": {"type": "line", "stroke": "#000000", "strokeWidth": 2, "clip": true},
   "encoding": {
    "x": {"field": "t", "type": "quantitative", "scale": {"domain": [0, 50]}, "axis": {"orient": "top", "title": null, "labels": false, "values": [0,5,10,15,20,25,30,35,40,45,50]}},
    "y": {"field": "dur", "type": "quantitative", "scale": {"domain": [0, 180]}, "axis": {"orient": "right", "title": "Duration[s]", "values": [0,20,40,60,80,100,120,140,160,180]}}
   }
  }
 ],
 "resolve": {"scale": {"y": "independent"}, "axis": {"x": "independent", "y": "independent"}}
}
]
}
